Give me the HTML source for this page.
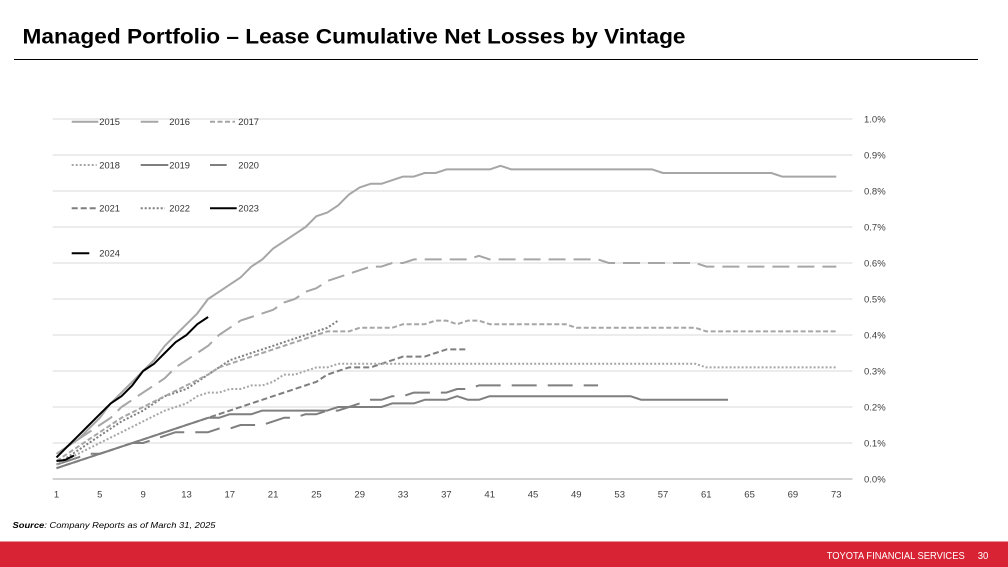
<!DOCTYPE html>
<html>
<head>
<meta charset="utf-8">
<style>
  html, body { margin:0; padding:0; background:#ffffff; }
  body { width:1008px; height:567px; overflow:hidden; }
  svg { display:block; }
  text { font-family: "Liberation Sans", Arial, sans-serif; }
</style>
</head>
<body>
<svg width="1008" height="567" viewBox="0 0 1008 567" xmlns="http://www.w3.org/2000/svg">
  <rect x="0" y="0" width="1008" height="567" fill="#ffffff"/>

  <!-- Title -->
  <text x="22.5" y="43.3" font-size="21" font-weight="bold" fill="#000" textLength="663" lengthAdjust="spacingAndGlyphs">Managed Portfolio – Lease Cumulative Net Losses by Vintage</text>
  <line x1="14" y1="59.5" x2="978" y2="59.5" stroke="#000" stroke-width="1"/>

  <!-- Gridlines -->
  <g stroke="#d9d9d9" stroke-width="1">
    <line x1="52.7" y1="119" x2="852.5" y2="119"/>
    <line x1="52.7" y1="155" x2="852.5" y2="155"/>
    <line x1="52.7" y1="191" x2="852.5" y2="191"/>
    <line x1="52.7" y1="227" x2="852.5" y2="227"/>
    <line x1="52.7" y1="263" x2="852.5" y2="263"/>
    <line x1="52.7" y1="299" x2="852.5" y2="299"/>
    <line x1="52.7" y1="335" x2="852.5" y2="335"/>
    <line x1="52.7" y1="371" x2="852.5" y2="371"/>
    <line x1="52.7" y1="407" x2="852.5" y2="407"/>
    <line x1="52.7" y1="443" x2="852.5" y2="443"/>
  </g>
  <line x1="52.7" y1="479" x2="852.5" y2="479" stroke="#a6a6a6" stroke-width="1"/>

  <!-- Right axis labels -->
  <g font-size="9.5" fill="#404040">
    <text x="864" y="122.5">1.0%</text>
    <text x="864" y="158.5">0.9%</text>
    <text x="864" y="194.5">0.8%</text>
    <text x="864" y="230.5">0.7%</text>
    <text x="864" y="266.5">0.6%</text>
    <text x="864" y="302.5">0.5%</text>
    <text x="864" y="338.5">0.4%</text>
    <text x="864" y="374.5">0.3%</text>
    <text x="864" y="410.5">0.2%</text>
    <text x="864" y="446.5">0.1%</text>
    <text x="864" y="482.5">0.0%</text>
  </g>

  <!-- X axis labels -->
  <g font-size="9.5" fill="#404040" text-anchor="middle">
    <text x="56.5" y="497.5">1</text>
    <text x="99.8" y="497.5">5</text>
    <text x="143.1" y="497.5">9</text>
    <text x="186.5" y="497.5">13</text>
    <text x="229.8" y="497.5">17</text>
    <text x="273.1" y="497.5">21</text>
    <text x="316.4" y="497.5">25</text>
    <text x="359.7" y="497.5">29</text>
    <text x="403.1" y="497.5">33</text>
    <text x="446.4" y="497.5">37</text>
    <text x="489.7" y="497.5">41</text>
    <text x="533.0" y="497.5">45</text>
    <text x="576.3" y="497.5">49</text>
    <text x="619.7" y="497.5">53</text>
    <text x="663.0" y="497.5">57</text>
    <text x="706.3" y="497.5">61</text>
    <text x="749.6" y="497.5">65</text>
    <text x="792.9" y="497.5">69</text>
    <text x="836.3" y="497.5">73</text>
  </g>

  <!-- Series -->
  <g fill="none" stroke-width="2" stroke-linejoin="round">
    <!-- 2021 -->
    <polyline stroke="#7f7f7f" stroke-dasharray="6,3" points="56.5,468.2 316.4,381.8 327.3,374.6 338.1,371 348.9,367.4 370.6,367.4 381.4,363.8 392.2,360.2 403.1,356.6 424.7,356.6 435.6,353 446.4,349.4 468,349.4"/>
    <!-- 2020 -->
    <polyline stroke="#7f7f7f" stroke-dasharray="25,11" points="56.5,464.6 67.3,461 78.2,457.4 89,453.8 99.8,453.8 110.7,450.2 121.5,446.6 132.3,443 143.1,443 154,439.4 164.8,435.8 175.6,432.2 208.1,432.2 219,428.6 229.8,428.6 240.6,425 262.3,425 273.1,421.4 283.9,417.8 294.8,417.8 305.6,414.2 316.4,414.2 327.3,410.6 338.1,410.6 348.9,407 359.7,403.4 370.6,399.8 381.4,399.8 392.2,396.2 403.1,396.2 413.9,392.6 446.4,392.6 457.2,389 468,389 478.9,385.4 598,385.4"/>
    <!-- 2019 -->
    <polyline stroke="#7f7f7f" points="56.5,468.2 208.1,417.8 219,417.8 229.8,414.2 251.4,414.2 262.3,410.6 327.3,410.6 338.1,407 381.4,407 392.2,403.4 413.9,403.4 424.7,399.8 446.4,399.8 457.2,396.2 468,399.8 478.9,399.8 489.7,396.2 630.5,396.2 641.3,399.8 728,399.8"/>
    <!-- 2022 -->
    <polyline stroke="#7f7f7f" stroke-dasharray="2,2" points="56.5,464.6 78.2,450.2 99.8,435.8 121.5,421.4 143.1,410.6 164.8,396.2 186.5,389 208.1,374.6 219,367.4 229.8,360.2 240.6,356.6 251.4,353 262.3,349.4 273.1,345.8 283.9,342.2 294.8,338.6 305.6,335 316.4,331.4 327.3,327.8 338.1,320.6"/>
    <!-- 2018 -->
    <polyline stroke="#a6a6a6" stroke-dasharray="2,2" points="56.5,464.6 78.2,453.8 99.8,443 121.5,432.2 143.1,421.4 164.8,410.6 186.5,403.4 197.3,396.2 208.1,392.6 219,392.6 229.8,389 240.6,389 251.4,385.4 262.3,385.4 273.1,381.8 283.9,374.6 294.8,374.6 305.6,371 316.4,367.4 327.3,367.4 338.1,363.8 695.5,363.8 706.3,367.4 836.3,367.4"/>
    <!-- 2017 -->
    <polyline stroke="#a6a6a6" stroke-dasharray="5,2.5" points="56.5,461 78.2,446.6 99.8,432.2 121.5,417.8 143.1,407 164.8,396.2 186.5,385.4 208.1,374.6 219,367.4 229.8,363.8 240.6,360.2 251.4,356.6 262.3,353 273.1,349.4 283.9,345.8 294.8,342.2 305.6,338.6 316.4,335 327.3,331.4 348.9,331.4 359.7,327.8 392.2,327.8 403.1,324.2 424.7,324.2 435.6,320.6 446.4,320.6 457.2,324.2 468,320.6 478.9,320.6 489.7,324.2 565.5,324.2 576.3,327.8 695.5,327.8 706.3,331.4 836.3,331.4"/>
    <!-- 2016 -->
    <polyline stroke="#a6a6a6" stroke-dasharray="17,8" points="56.5,453.8 67.3,446.6 78.2,439.4 89,432.2 99.8,425 110.7,417.8 121.5,407 132.3,399.8 143.1,392.6 154,385.4 164.8,378.2 175.6,367.4 186.5,360.2 197.3,353 208.1,345.8 219,335 229.8,327.8 240.6,320.6 251.4,317 262.3,313.4 273.1,309.8 283.9,302.6 294.8,299 305.6,291.8 316.4,288.2 327.3,281 338.1,277.4 348.9,273.8 359.7,270.2 370.6,266.6 381.4,266.6 392.2,263 403.1,263 413.9,259.4 468,259.4 478.9,255.8 489.7,259.4 598,259.4 608.8,263 695.5,263 706.3,266.6 836.3,266.6"/>
    <!-- 2015 -->
    <polyline stroke="#a6a6a6" points="56.5,457.4 67.3,446.6 78.2,439.4 89,428.6 99.8,417.8 110.7,403.4 121.5,392.6 132.3,381.8 143.1,371 154,360.2 164.8,345.8 175.6,335 186.5,324.2 197.3,313.4 208.1,299 219,291.8 229.8,284.6 240.6,277.4 251.4,266.6 262.3,259.4 273.1,248.6 283.9,241.4 294.8,234.2 305.6,227 316.4,216.2 327.3,212.6 338.1,205.4 348.9,194.6 359.7,187.4 370.6,183.8 381.4,183.8 392.2,180.2 403.1,176.6 413.9,176.6 424.7,173 435.6,173 446.4,169.4 489.7,169.4 500.5,165.8 511.4,169.4 652.2,169.4 663,173 771.3,173 782.1,176.6 836.3,176.6"/>
    <!-- 2023 -->
    <polyline stroke="#000000" points="56.5,457.4 67.3,446.6 78.2,435.8 89,425 99.8,414.2 110.7,403.4 121.5,396.2 132.3,385.4 143.1,371 154,363.8 164.8,353 175.6,342.2 186.5,335 197.3,324.2 208.1,317"/>
    <!-- 2024 -->
    <polyline stroke="#000000" points="56.5,461 65,460 74,455.5"/>
  </g>

  <!-- Legend -->
  <g stroke-width="2" fill="none">
    <line x1="71.7" y1="121.7" x2="98.3" y2="121.7" stroke="#a6a6a6"/>
    <line x1="140.7" y1="121.7" x2="158.3" y2="121.7" stroke="#a6a6a6"/>
    <line x1="210" y1="121.7" x2="235" y2="121.7" stroke="#a6a6a6" stroke-dasharray="5,2.5"/>

    <line x1="71.7" y1="165" x2="96.7" y2="165" stroke="#a6a6a6" stroke-dasharray="2,2"/>
    <line x1="140.7" y1="165" x2="168.3" y2="165" stroke="#7f7f7f"/>
    <line x1="210" y1="165" x2="226.7" y2="165" stroke="#7f7f7f"/>

    <line x1="71.7" y1="208.3" x2="96.7" y2="208.3" stroke="#7f7f7f" stroke-dasharray="6,3"/>
    <line x1="140.7" y1="208.3" x2="165" y2="208.3" stroke="#7f7f7f" stroke-dasharray="2,2"/>
    <line x1="210" y1="208.3" x2="236.7" y2="208.3" stroke="#000"/>

    <line x1="71.7" y1="253.3" x2="89.3" y2="253.3" stroke="#000"/>
  </g>
  <g font-size="9.3" fill="#333333">
    <text x="99.3" y="125">2015</text>
    <text x="169.3" y="125">2016</text>
    <text x="238.3" y="125">2017</text>
    <text x="99.3" y="168.3">2018</text>
    <text x="169.3" y="168.3">2019</text>
    <text x="238.3" y="168.3">2020</text>
    <text x="99.3" y="211.6">2021</text>
    <text x="169.3" y="211.6">2022</text>
    <text x="238.3" y="211.6">2023</text>
    <text x="99.3" y="256.6">2024</text>
  </g>

  <!-- Source -->
  <text x="12.5" y="528" font-size="8.6" font-style="italic" fill="#000" textLength="203" lengthAdjust="spacingAndGlyphs"><tspan font-weight="bold">Source</tspan>: Company Reports as of March 31, 2025</text>

  <!-- Footer bar -->
  <rect x="0" y="541.5" width="1008" height="25.5" fill="#d72334"/>
  <text x="826.7" y="559" font-size="10.5" fill="#ffffff" textLength="138" lengthAdjust="spacingAndGlyphs">TOYOTA FINANCIAL SERVICES</text>
  <text x="977.7" y="559" font-size="10.5" fill="#ffffff" textLength="10.6" lengthAdjust="spacingAndGlyphs">30</text>
</svg>
</body>
</html>
